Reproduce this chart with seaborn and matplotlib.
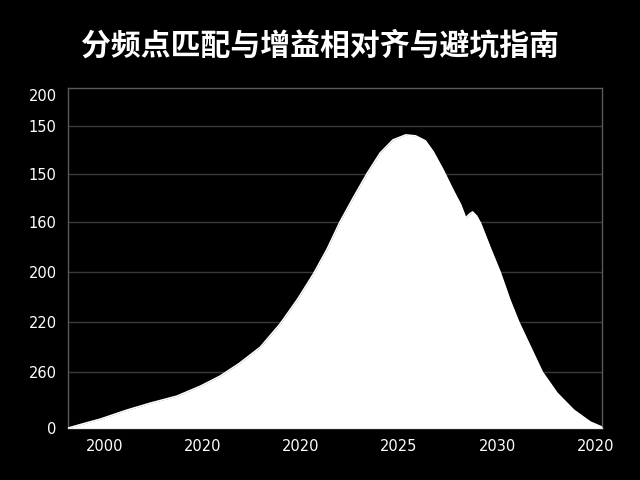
import numpy as np
import pandas as pd
import matplotlib
matplotlib.use("Agg")
import matplotlib.pyplot as plt
import seaborn as sns

# datos (posicion x, altura)
x_vals = [-0.37, -0.19, -0.04, 0.23, 0.47, 0.74, 0.98, 1.18, 1.38, 1.59,
          1.79, 1.97, 2.13, 2.27, 2.40, 2.54, 2.68, 2.81, 2.94, 3.07,
          3.17, 3.27, 3.35, 3.45, 3.55, 3.63, 3.68, 3.72, 3.75, 3.79,
          3.83, 3.93, 4.03, 4.13, 4.22, 4.34, 4.46, 4.61, 4.78, 4.95, 5.07]
y_vals = [0, 5, 9, 18, 25, 32, 42, 52, 65, 81,
          104, 129, 154, 179, 206, 231, 255, 275, 288, 293,
          292, 287, 276, 258, 238, 223, 210, 214, 216, 212,
          205, 180, 156, 128, 106, 81, 56, 35, 18, 6, 1]

x_ticks = [0, 1, 2, 3, 4, 5]
x_labels = ["2000", "2020", "2020", "2025", "2030", "2020"]
y_ticks = [0, 56, 106, 156, 206, 254, 302, 333]
y_labels = ["0", "260", "220", "200", "160", "150", "150", "200"]

titulo = "分频点匹配与增益相对齐与避坑指南"

df = pd.DataFrame({"x": x_vals, "y": y_vals})

sns.set_theme(style="dark")
plt.rcParams["font.family"] = ["Noto Sans CJK SC", "DejaVu Sans"]

fig = plt.figure(figsize=(6.4, 4.8), dpi=100, facecolor="black")
ax = fig.add_axes([0.106, 0.108, 0.835, 0.709])
ax.set_facecolor("black")

ax.fill_between(df["x"], df["y"], 0, color="white", linewidth=0, zorder=3)
sns.lineplot(data=df, x="x", y="y", color="white", linewidth=1.2, ax=ax, zorder=3)

ax.set_xlim(-0.37, 5.07)
ax.set_ylim(0, 340)
ax.set_xticks(x_ticks)
ax.set_xticklabels(x_labels)
ax.set_yticks(y_ticks)
ax.set_yticklabels(y_labels)
ax.tick_params(colors="white", labelsize=10.5, length=0, pad=8)
for lab in ax.get_xticklabels() + ax.get_yticklabels():
    lab.set_family(["DejaVu Sans"])

ax.set_xlabel("")
ax.set_ylabel("")
ax.grid(False)
for yy in [56, 106, 156, 206, 254, 302]:
    ax.axhline(yy, color="#3a3a3a", linewidth=1, zorder=1)

for s in ["left", "right", "top", "bottom"]:
    ax.spines[s].set_visible(True)
    ax.spines[s].set_color("#5a5a5a")
    ax.spines[s].set_linewidth(1)
ax.spines["bottom"].set_color("#cccccc")

fig.text(0.5, 0.905, titulo, color="white", fontsize=21.5, fontweight="bold",
         ha="center", va="center")

fig.savefig("out.png", dpi=100, facecolor="black")
